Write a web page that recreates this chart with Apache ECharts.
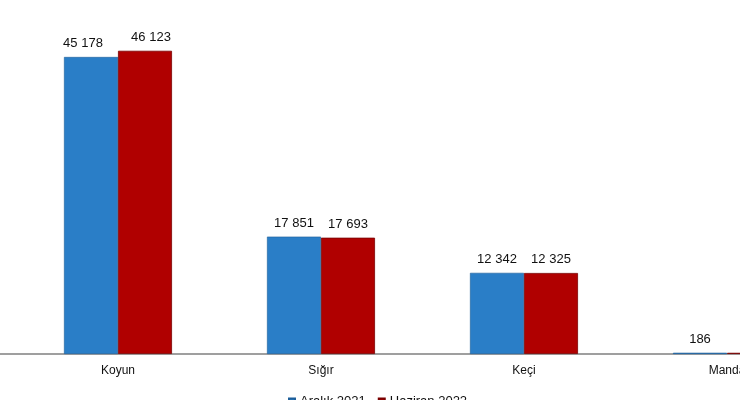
<!DOCTYPE html>
<html>
<head>
<meta charset="utf-8">
<script src="https://cdn.jsdelivr.net/npm/echarts@6/dist/echarts.min.js"></script>
<style>
  html, body { margin: 0; padding: 0; background: #fff; }
  #chart { width: 740px; height: 400px; }
</style>
</head>
<body>
<div id="chart"></div>
<script>
var categories = ['Koyun', 'Sığır', 'Keçi', 'Manda'];
var aralik2021 = [45178, 17851, 12342, 186];
var haziran2022 = [46123, 17693, 12325, 181];
var seriesNames = ['Aralık 2021', 'Haziran 2022'];

function fmt(v) {
  return String(v).replace(/\B(?=(\d{3})+(?!\d))/g, ' ');
}

// the Koyun labels sit a little apart in the original
function withShift(values, dx) {
  return values.map(function (v, i) {
    if (i === 0) return { value: v, label: { offset: [dx, 0] } };
    return v;
  });
}

var chart = echarts.init(document.getElementById('chart'));

var labelStyle = {
  show: true,
  position: 'top',
  distance: 7,
  color: '#111',
  fontFamily: 'Liberation Sans, Arial, sans-serif',
  fontSize: 13,
  formatter: function (p) { return fmt(p.value); }
};

var option = {
  animation: false,
  backgroundColor: '#fff',
  legend: {
    top: 390,
    left: 283,
    itemWidth: 6,
    itemHeight: 6,
    itemGap: 12,
    icon: 'rect',
    textStyle: { fontFamily: 'Liberation Sans, Arial, sans-serif', fontSize: 13, color: '#111' },
    data: seriesNames
  },
  grid: [
    { left: 16.5, width: 812, top: 25.3, bottom: 46, outerBoundsMode: 'none', containLabel: false },
    { left: 0, right: 0, top: 25.3, bottom: 46, outerBoundsMode: 'none', containLabel: false }
  ],
  xAxis: [
    {
      type: 'category',
      gridIndex: 0,
      data: categories,
      axisLine: { show: false },
      axisTick: { show: false },
      axisLabel: {
        margin: 11,
        color: '#111',
        fontFamily: 'Liberation Sans, Arial, sans-serif',
        fontSize: 12
      }
    },
    {
      type: 'value',
      gridIndex: 1,
      axisLine: { show: true, lineStyle: { color: '#7f7f7f', width: 1.5 } },
      axisTick: { show: false },
      axisLabel: { show: false },
      splitLine: { show: false }
    }
  ],
  yAxis: [
    { type: 'value', gridIndex: 0, min: 0, max: 50000, show: false },
    { type: 'value', gridIndex: 1, show: false }
  ],
  series: [
    {
      name: seriesNames[0],
      type: 'bar',
      data: withShift(aralik2021, -8),
      barGap: '0%',
      barCategoryGap: '46.8%',
      itemStyle: { color: '#2a7ec7', borderColor: '#1d5e99', borderWidth: 0.6 },
      label: labelStyle,
      z: 3
    },
    {
      name: seriesNames[1],
      type: 'bar',
      data: withShift(haziran2022, 6),
      barGap: '0%',
      barCategoryGap: '46.8%',
      itemStyle: { color: '#b00000', borderColor: '#780000', borderWidth: 0.8 },
      label: labelStyle,
      z: 3
    }
  ]
};

chart.setOption(option);
</script>
</body>
</html>
